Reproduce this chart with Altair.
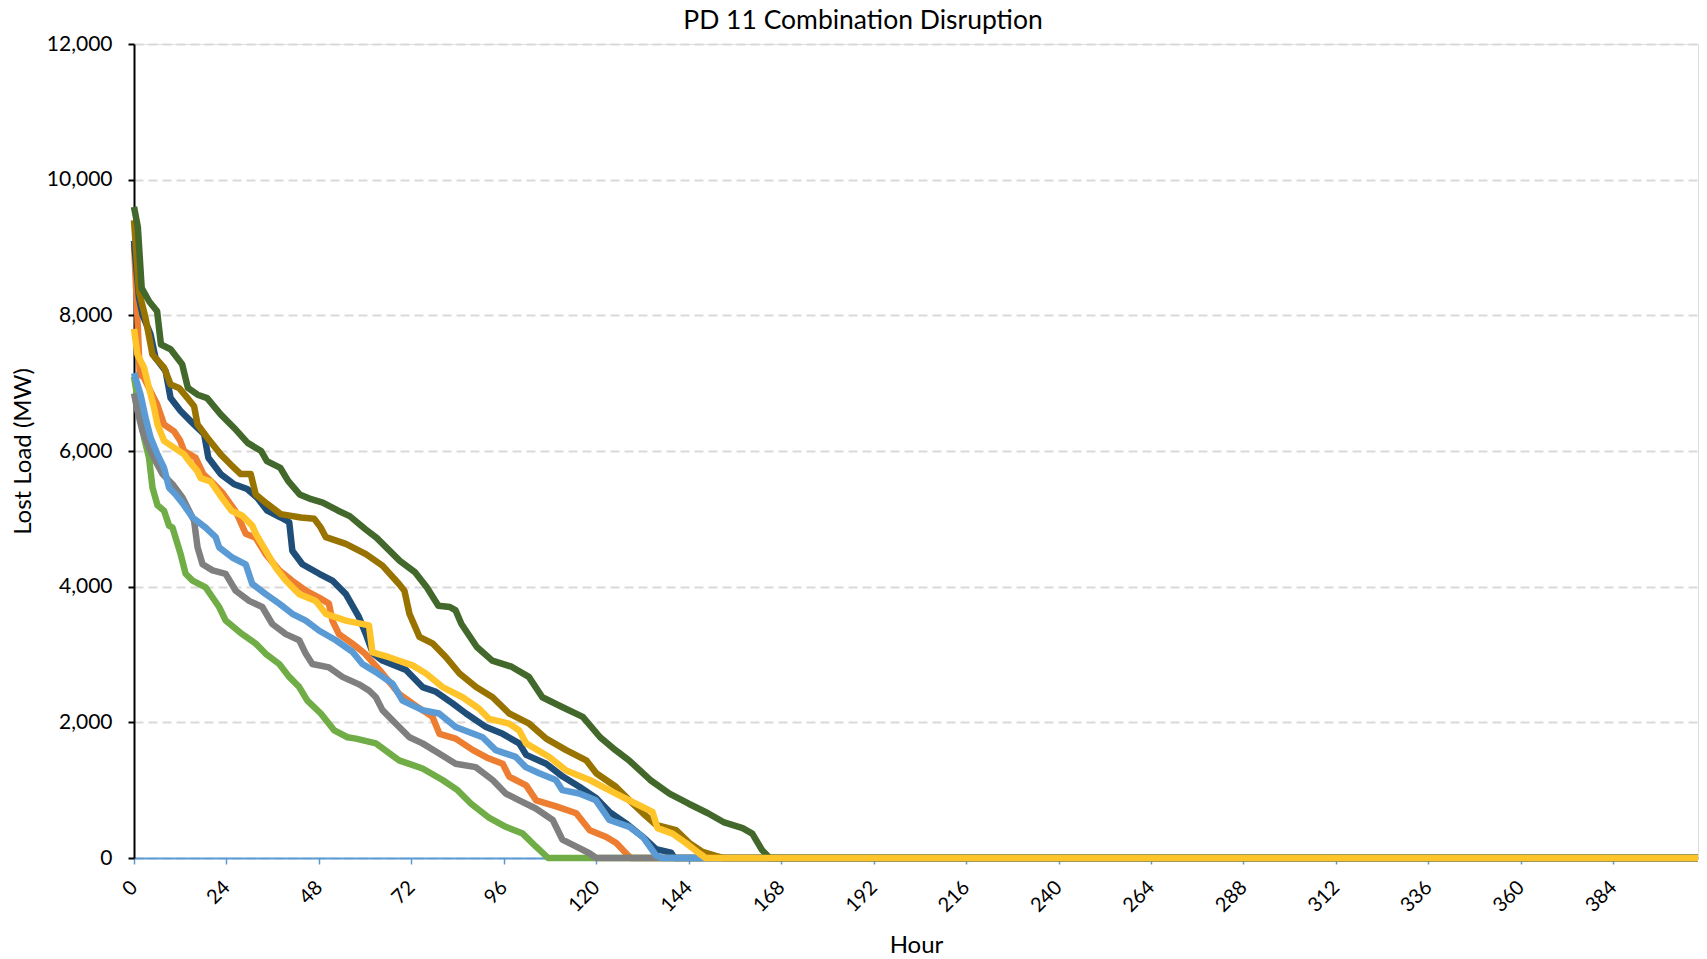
import altair as alt
import pandas as pd

# ---- data (hour, lost load MW) ----
dkblue_h = [0, 1.3, 2.2, 4.3, 5.6, 8.2, 9.5, 12.1, 14.7, 16.5, 18.2, 19.3, 22.5, 26, 29.4, 32, 34.6, 38.1, 40.3, 41.1, 43.7, 48.1, 51.5, 55, 58.4, 60.2, 62, 64.5, 70.6, 74.9, 78.4, 82.7, 86.2, 91.4, 95.7, 100, 101.8, 107, 111.3, 115.6, 120, 123.4, 127.7, 132.1, 135.5, 139.4, 140.3, 406]
dkblue_v = [9100, 8260, 8010, 7720, 7370, 7180, 6780, 6590, 6440, 6340, 6250, 5900, 5660, 5510, 5440, 5310, 5120, 5020, 4950, 4530, 4330, 4190, 4090, 3890, 3550, 3300, 3020, 2910, 2770, 2520, 2450, 2280, 2130, 1930, 1830, 1690, 1520, 1390, 1200, 1050, 880, 680, 510, 310, 130, 80, 0, 0]

orange_h = [0, 0.8, 1.5, 2.6, 4.3, 6, 7.8, 10.4, 12, 13, 16, 18, 20.8, 23, 26.5, 29, 31.6, 34.2, 37.7, 41, 44.6, 48, 50.6, 51.5, 53.2, 56.7, 60, 64.5, 68.8, 73, 77.5, 79.3, 83.5, 88, 92, 95.7, 97.4, 101.8, 104.4, 109.6, 114.8, 118.3, 122.6, 125.2, 128.2, 129, 406]
orange_v = [9050, 8100, 7130, 7080, 6880, 6690, 6390, 6290, 6150, 6000, 5900, 5660, 5510, 5380, 5100, 4780, 4720, 4480, 4240, 4090, 3940, 3840, 3750, 3500, 3300, 3160, 3010, 2720, 2420, 2250, 2080, 1830, 1760, 1590, 1470, 1390, 1200, 1070, 850, 760, 660, 410, 310, 220, 40, 0, 0]

gray_h = [0, 0.9, 2.2, 3.9, 5.6, 7.4, 10, 12.6, 14.3, 15.6, 16.5, 17.8, 20.4, 23.8, 26.4, 29.9, 33.3, 35.9, 39.4, 42.9, 44.6, 46.3, 50.6, 54.1, 58.4, 61, 62.8, 64.5, 68, 71.5, 74.9, 79.2, 83.5, 88.7, 93.1, 96.5, 100, 104.3, 108.7, 111.2, 114.7, 118.2, 120, 406]
gray_v = [6850, 6590, 6290, 6050, 5850, 5660, 5510, 5310, 5120, 4970, 4580, 4330, 4240, 4190, 3940, 3790, 3700, 3450, 3300, 3210, 3010, 2860, 2810, 2670, 2560, 2470, 2370, 2180, 1980, 1780, 1690, 1540, 1390, 1340, 1150, 950, 850, 730, 560, 270, 170, 70, 0, 0]

ltblue_h = [0, 1.7, 3, 4.3, 6.1, 7.8, 9.1, 10.8, 12.6, 15.2, 18.6, 21.2, 22.1, 25.5, 29, 30.7, 34.2, 37.7, 41.1, 44.6, 48.1, 52.4, 56.7, 59.3, 62.8, 67.1, 69.7, 74.9, 79.2, 83.5, 90.5, 93.9, 99.1, 101.7, 105.2, 109.5, 111.2, 115.6, 119.9, 123.4, 128.6, 132.1, 135.5, 137, 406]
ltblue_v = [7150, 6830, 6490, 6200, 5950, 5750, 5460, 5360, 5230, 5020, 4870, 4730, 4580, 4430, 4330, 4040, 3890, 3750, 3600, 3500, 3350, 3210, 3040, 2860, 2740, 2570, 2320, 2180, 2130, 1930, 1780, 1590, 1490, 1340, 1250, 1150, 1000, 950, 850, 560, 460, 310, 40, 0, 0]

green_h = [0, 1.3, 2.6, 3.9, 4.8, 6.1, 7.8, 9.1, 10, 11.3, 12.1, 13.4, 15.2, 18.6, 20.4, 22.1, 23.8, 28.1, 31.6, 34.2, 37.7, 40.3, 42.9, 45, 48.5, 52, 55.4, 57.6, 62.8, 68.8, 74.9, 80.1, 84, 87.5, 92, 96.5, 100.9, 104.3, 107.5, 406]
green_v = [7100, 6640, 6200, 5900, 5460, 5200, 5120, 4900, 4870, 4630, 4480, 4190, 4090, 3990, 3840, 3700, 3500, 3300, 3160, 3010, 2860, 2670, 2520, 2320, 2130, 1880, 1780, 1760, 1690, 1440, 1320, 1150, 1000, 800, 600, 460, 360, 170, 0, 0]

olive_h = [0, 1.3, 3, 4.8, 7.8, 9.5, 11.7, 13.9, 15.6, 16.5, 19, 22.5, 25.1, 27.7, 30.3, 31.6, 34.6, 38.1, 43.3, 46.8, 48.5, 49.8, 55, 60.2, 64.5, 68.8, 70.2, 71.5, 74.1, 77.6, 81, 84.5, 88.8, 93.1, 97.4, 102.6, 107, 112.2, 117.4, 120, 125.1, 128.6, 132.1, 135.5, 140.7, 144.2, 147.6, 151, 153, 406]
olive_v = [9400, 8350, 7960, 7420, 7230, 6980, 6930, 6780, 6660, 6390, 6200, 5950, 5800, 5660, 5660, 5360, 5220, 5070, 5020, 5000, 4870, 4730, 4630, 4480, 4310, 4040, 3940, 3600, 3260, 3160, 2960, 2720, 2520, 2370, 2130, 1980, 1760, 1590, 1440, 1250, 1050, 850, 660, 490, 410, 220, 90, 30, 0, 0]

dkgreen_h = [0, 1, 2, 4, 6, 7, 9.5, 12.5, 14, 16.5, 19, 22.5, 26, 29.5, 33, 34.5, 38, 40, 43, 46, 49, 53, 56, 60, 63, 66, 69, 73, 76, 79, 82, 83.5, 85, 89, 93, 98, 102.5, 106, 111, 116.5, 121, 125, 128.5, 134, 139, 144, 149, 153, 158, 160.5, 163, 165, 406]
dkgreen_v = [9600, 9300, 8400, 8200, 8060, 7570, 7500, 7280, 6930, 6830, 6780, 6540, 6340, 6120, 6000, 5850, 5750, 5560, 5360, 5290, 5240, 5120, 5040, 4850, 4720, 4550, 4380, 4210, 3990, 3720, 3700, 3650, 3450, 3110, 2910, 2820, 2670, 2370, 2230, 2080, 1780, 1590, 1440, 1150, 950, 800, 660, 530, 440, 360, 120, 0, 0]

yellow_h = [0, 0.9, 2.6, 3.9, 5.2, 6.1, 7.8, 10.4, 13, 14.3, 16.5, 17.3, 19.9, 22.7, 25.3, 28, 30.7, 31.6, 34.2, 36.8, 39.4, 42.9, 47.2, 49.8, 55, 61, 61.9, 66.2, 72.3, 75.8, 80.1, 85.3, 89.6, 92.2, 97.4, 100, 101.8, 107.8, 112.2, 118.3, 125.1, 130.3, 134.6, 135.9, 139.8, 143.3, 146.7, 148.4, 406]
yellow_v = [7800, 7420, 7230, 6930, 6640, 6390, 6150, 6050, 5950, 5850, 5700, 5600, 5550, 5320, 5120, 5050, 4900, 4780, 4530, 4280, 4090, 3890, 3790, 3600, 3500, 3430, 3030, 2960, 2840, 2720, 2520, 2370, 2200, 2050, 1980, 1880, 1690, 1490, 1290, 1150, 950, 800, 680, 440, 360, 220, 70, 0, 0]

# drawing order (later on top) and colours
series = [
    ("orange", orange_h, orange_v, "#ED7D31"),
    ("dkblue", dkblue_h, dkblue_v, "#1F4E79"),
    ("green", green_h, green_v, "#70AD47"),
    ("gray", gray_h, gray_v, "#7F7F7F"),
    ("ltblue", ltblue_h, ltblue_v, "#5B9BD5"),
    ("olive", olive_h, olive_v, "#997300"),
    ("dkgreen", dkgreen_h, dkgreen_v, "#43682B"),
    ("yellow", yellow_h, yellow_v, "#FFC42A"),
]

title_text = ["PD 11 Combination Disruption"]

x_ticks = list(range(0, 385, 24))
y_ticks = list(range(0, 12001, 2000))

FONT = "Lato"

x_enc = alt.X(
    "h:Q",
    scale=alt.Scale(domain=[0, 406], nice=False, zero=False),
    axis=alt.Axis(
        values=x_ticks, title="Hour", labelAngle=-45, labelAlign="right",
        labelBaseline="middle", labelPadding=20, tickSize=6, tickWidth=1.5,
        tickColor="#5B9BD5", domainColor="#5B9BD5", domainWidth=2,
        grid=False, labelFont=FONT, labelFontSize=20, labelColor="#000000",
        titleFont=FONT, titleFontSize=24, titleFontWeight="normal",
        titleColor="#000000", titleX=782, titleY=87, titleBaseline="middle",
        titleAlign="center", labelFlush=False, labelOverlap=False,
    ),
)
y_enc = alt.Y(
    "v:Q",
    scale=alt.Scale(domain=[0, 12000], nice=False),
    axis=alt.Axis(
        values=y_ticks, format=",.0f", title="Lost Load (MW)", tickSize=6,
        tickWidth=2, tickColor="#000000", domainColor="#000000", domainWidth=2,
        grid=True, gridColor="#D9D9D9", gridDash=[9, 5], gridWidth=2,
        labelFont=FONT, labelFontSize=21, labelColor="#000000", labelPadding=16,
        titleFont=FONT, titleFontSize=24, titleFontWeight="normal",
        titleColor="#000000", titleAngle=-90, titleX=-111, titleY=407,
        titleBaseline="middle", titleAlign="center",
    ),
)

layers = []
for name, hs, vs, col in series:
    df = pd.DataFrame({"h": hs, "v": vs})
    layers.append(
        alt.Chart(df)
        .mark_line(color=col, strokeWidth=6.5, strokeJoin="round", strokeCap="butt")
        .encode(x=x_enc, y=y_enc, strokeWidth=alt.value(6.5))
    )

title_layer = (
    alt.Chart(pd.DataFrame({"t": title_text}))
    .mark_text(font=FONT, fontSize=26.5, color="#000000", align="center",
               baseline="alphabetic")
    .encode(text="t:N", x=alt.value(729), y=alt.value(-15))
)

chart = (
    alt.layer(*layers, title_layer)
    .properties(
        width=1564, height=814,
        padding={"left": 126, "top": 36, "right": 1, "bottom": 100},
        autosize=alt.AutoSizeParams(type="none"),
    )
    .configure_view(stroke=None)
    .configure(background="white")
)

chart.save("out.html", embed_options={"renderer": "svg", "actions": False})
